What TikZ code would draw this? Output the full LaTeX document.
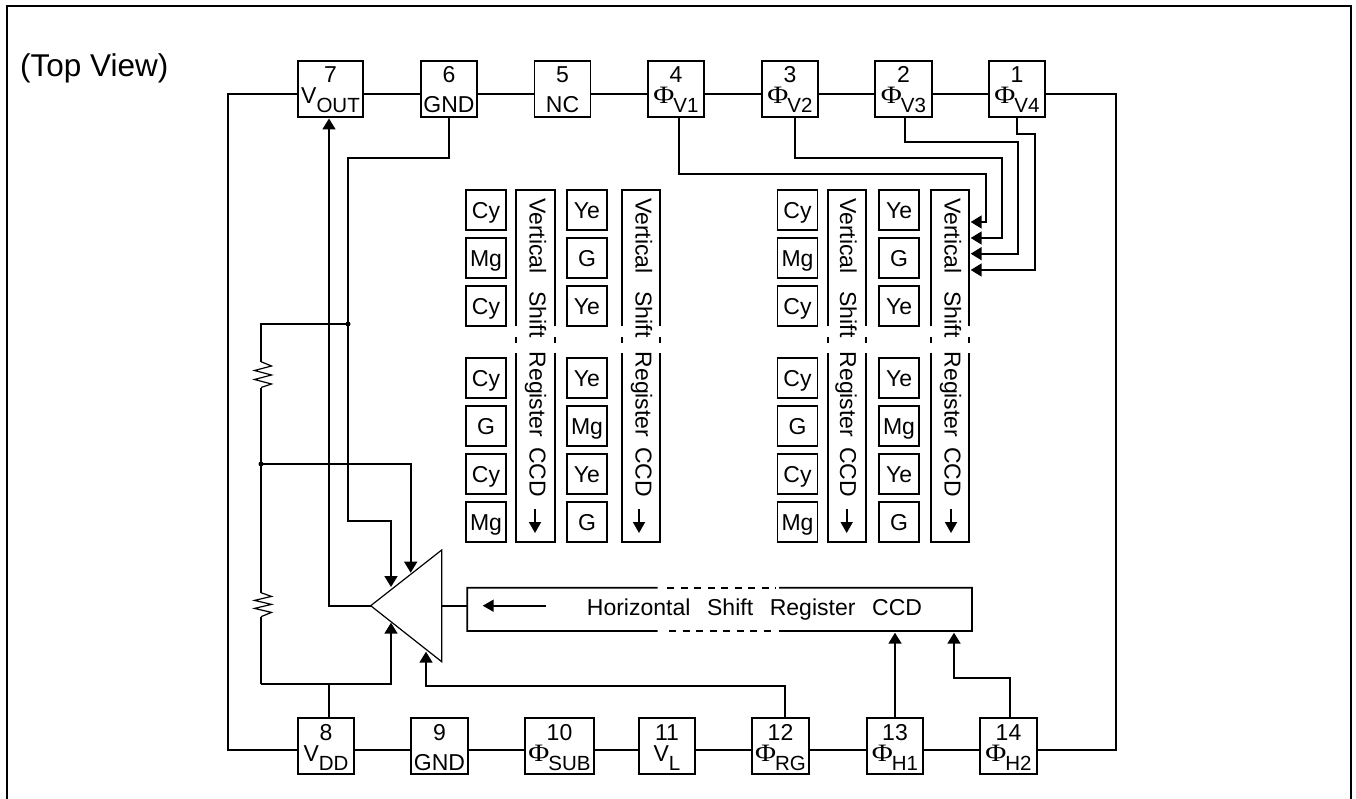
\documentclass[tikz,border=0pt]{standalone}
\usepackage{fontspec}
\setmainfont{Liberation Sans}
\newfontfamily\phifont{Liberation Serif}
\usetikzlibrary{arrows.meta}

\newcommand{\pinsub}[2]{#1\lower9pt\hbox{\fontsize{20.5}{20.5}\selectfont #2}}
\newcommand{\pinphi}[1]{\pinsub{\scalebox{1.15}[1]{\phifont\fontsize{25}{25}\selectfont Φ}\kern-1pt}{#1}}
\newcommand{\pinlow}[1]{\lower9pt\hbox{#1}}

\tikzset{
  pin/.style={draw,line width=1.8pt,minimum height=56pt,inner sep=0pt,outer sep=0pt,align=center,
    text height=30pt,text depth=0pt,font=\fontsize{23}{21}\selectfont},
  cell/.style={draw,line width=1.8pt,minimum width=40pt,minimum height=40pt,inner sep=0pt,outer sep=0pt,
    text height=16.5pt,text depth=0pt,font=\fontsize{23}{23}\selectfont},
  reglabel/.style={rotate=-90,anchor=base west,inner sep=0pt,font=\fontsize{23}{23}\selectfont},
  wire/.style={line width=1.8pt},
  sig/.style={line width=1.8pt,-{Triangle[length=11pt,width=13pt]}},
  inner/.style={line width=1.8pt,-{Triangle[length=11pt,width=12pt]}},
  zig/.style={line width=1.2pt}
}

\begin{document}
\begin{tikzpicture}[x=1pt,y=-1pt]
\useasboundingbox (0,0) rectangle (1356,799);
\draw[wire] (6.7,810) -- (6.7,5.7) -- (1351,5.7) -- (1351,810);
\node[anchor=base west,inner sep=0pt,font=\fontsize{31.5}{31.5}\selectfont] (view) at (20,77) {(Top View)};

% top row of pins
\node[pin,minimum width=65pt] (p7) at (330.5,89) {7\\\pinsub{V}{OUT}};
\node[pin,minimum width=56pt] (p6) at (449,89) {6\\\pinlow{GND}};
\node[pin,minimum width=56pt] (p5) at (562.5,89) {5\\\pinlow{NC}};
\node[pin,minimum width=56pt] (p4) at (676,89) {4\\\pinphi{V1}};
\node[pin,minimum width=56pt] (p3) at (790,89) {3\\\pinphi{V2}};
\node[pin,minimum width=57pt] (p2) at (903.5,89) {2\\\pinphi{V3}};
\node[pin,minimum width=56pt] (p1) at (1017,89) {1\\\pinphi{V4}};

% bottom row of pins
\node[pin,minimum width=56pt] (p8) at (326,746) {8\\\pinsub{V}{DD}};
\node[pin,minimum width=57pt] (p9) at (439.5,746) {9\\\pinlow{GND}};
\node[pin,minimum width=69pt] (p10) at (559.5,746) {10\\\pinphi{SUB}};
\node[pin,minimum width=56pt] (p11) at (667,746) {11\\\pinsub{V}{L}};
\node[pin,minimum width=57pt] (p12) at (780.5,746) {12\\\pinphi{RG}};
\node[pin,minimum width=56pt] (p13) at (895,746) {13\\\pinphi{H1}};
\node[pin,minimum width=57pt] (p14) at (1008.5,746) {14\\\pinphi{H2}};

% outer ring
\coordinate (tl) at (227.7,94);
\coordinate (tr) at (1115.7,94);
\coordinate (bl) at (227.7,749.7);
\coordinate (br) at (1115.7,749.7);
\draw[wire] (p7.west |- tl) -- (tl) -- (bl) -- (p8.west |- bl);
\draw[wire] (p1.east |- tr) -- (tr) -- (br) -- (p14.east |- br);
\draw[wire] (p7.east |- tl) -- (p6.west |- tl);
\draw[wire] (p6.east |- tl) -- (p5.west |- tl);
\draw[wire] (p5.east |- tl) -- (p4.west |- tl);
\draw[wire] (p4.east |- tl) -- (p3.west |- tl);
\draw[wire] (p3.east |- tl) -- (p2.west |- tl);
\draw[wire] (p2.east |- tl) -- (p1.west |- tl);
\draw[wire] (p8.east |- bl) -- (p9.west |- bl);
\draw[wire] (p9.east |- bl) -- (p10.west |- bl);
\draw[wire] (p10.east |- bl) -- (p11.west |- bl);
\draw[wire] (p11.east |- bl) -- (p12.west |- bl);
\draw[wire] (p12.east |- bl) -- (p13.west |- bl);
\draw[wire] (p13.east |- bl) -- (p14.west |- bl);

% left group of cells
\node[cell] (a1) at (486,210) {Cy};
\node[cell] (a2) at (486,258) {Mg};
\node[cell] (a3) at (486,306) {Cy};
\node[cell] (a4) at (486,378) {Cy};
\node[cell] (a5) at (486,426) {G};
\node[cell] (a6) at (486,474) {Cy};
\node[cell] (a7) at (486,522) {Mg};
\node[cell] (b1) at (587,210) {Ye};
\node[cell] (b2) at (587,258) {G};
\node[cell] (b3) at (587,306) {Ye};
\node[cell] (b4) at (587,378) {Ye};
\node[cell] (b5) at (587,426) {Mg};
\node[cell] (b6) at (587,474) {Ye};
\node[cell] (b7) at (587,522) {G};

% right group of cells
\node[cell] (c1) at (797.5,210) {Cy};
\node[cell] (c2) at (797.5,258) {Mg};
\node[cell] (c3) at (797.5,306) {Cy};
\node[cell] (c4) at (797.5,378) {Cy};
\node[cell] (c5) at (797.5,426) {G};
\node[cell] (c6) at (797.5,474) {Cy};
\node[cell] (c7) at (797.5,522) {Mg};
\node[cell] (d1) at (899,210) {Ye};
\node[cell] (d2) at (899,258) {G};
\node[cell] (d3) at (899,306) {Ye};
\node[cell] (d4) at (899,378) {Ye};
\node[cell] (d5) at (899,426) {Mg};
\node[cell] (d6) at (899,474) {Ye};
\node[cell] (d7) at (899,522) {G};

% vertical registers
\draw[wire] (516,326) -- (516,190) -- (555,190) -- (555,326) (516,337) -- (516,343) (555,337) -- (555,343) (516,353) -- (516,542) -- (555,542) -- (555,353);
\draw[wire] (622,326) -- (622,190) -- (660,190) -- (660,326) (622,337) -- (622,343) (660,337) -- (660,343) (622,353) -- (622,542) -- (660,542) -- (660,353);
\draw[wire] (828,326) -- (828,190) -- (866,190) -- (866,326) (828,337) -- (828,343) (866,337) -- (866,343) (828,353) -- (828,542) -- (866,542) -- (866,353);
\draw[wire] (931,326) -- (931,190) -- (969,190) -- (969,326) (931,337) -- (931,343) (969,337) -- (969,343) (931,353) -- (931,542) -- (969,542) -- (969,353);
\node[reglabel] (r1) at (529.5,198) {Vertical\hspace{18pt}Shift\hspace{14pt}Register\hspace{10pt}CCD};
\node[reglabel] (r2) at (635.5,198) {Vertical\hspace{18pt}Shift\hspace{14pt}Register\hspace{10pt}CCD};
\node[reglabel] (r3) at (840,198) {Vertical\hspace{18pt}Shift\hspace{14pt}Register\hspace{10pt}CCD};
\node[reglabel] (r4) at (944.5,198) {Vertical\hspace{18pt}Shift\hspace{14pt}Register\hspace{10pt}CCD};
\coordinate (r1a) at (535,509);
\coordinate (r1b) at (535,533);
\coordinate (r2a) at (639,509);
\coordinate (r2b) at (639,533);
\coordinate (r3a) at (846.7,509);
\coordinate (r3b) at (846.7,533);
\coordinate (r4a) at (951,509);
\coordinate (r4b) at (951,533);
\draw[inner] (r1a) -- (r1b);
\draw[inner] (r2a) -- (r2b);
\draw[inner] (r3a) -- (r3b);
\draw[inner] (r4a) -- (r4b);

% clock lines into the last register
\coordinate (v1) at (970.7,222);
\coordinate (v2) at (970.7,238);
\coordinate (v3) at (970.7,253.7);
\coordinate (v4) at (970.7,270);
\draw[sig] ([xshift=2.7pt]p4.south) |- (986,174) |- (v1);
\draw[sig] ([xshift=5pt]p3.south) |- (1002,157.7) |- (v2);
\draw[sig] ([xshift=1.5pt]p2.south) |- (1018,141.7) |- (v3);
\draw[sig] ([xshift=-0.3pt]p1.south) |- (1035,133.7) |- (v4);

% horizontal register
\node[minimum width=504.7pt,minimum height=43.3pt,inner sep=0pt,outer sep=0pt] (hreg) at (719.65,609.35) {};
\node[anchor=base west,inner sep=0pt,font=\fontsize{23}{23}\selectfont] (htext) at (586.7,615) {Horizontal\hspace{16.7pt}Shift\hspace{16.7pt}Register\hspace{16.7pt}CCD};
\draw[wire] (657.7,587.7) -- (hreg.north west) -- (hreg.south west) -- (657.7,631);
\draw[wire] (779,587.7) -- (hreg.north east) -- (hreg.south east) -- (779,631);
\draw[wire,dash pattern=on 7pt off 6.5pt] (667,587.7) -- (776,587.7);
\draw[wire,dash pattern=on 7pt off 6.5pt] (669,631) -- (772,631);

% amplifier
\coordinate (ampout) at (370.7,605.7);
\coordinate (ampin) at (441.7,605.7);
\draw[zig] (ampout) -- (441.7,550) -- (441.7,661.7) -- cycle;
\draw[wire] (ampin) -- (hreg.west |- ampin);
\coordinate (ha) at (546,605.7);
\coordinate (hb) at (482.7,605.7);
\draw[inner] (ha) -- (hb);
\coordinate (o1) at (329,118.5);
\draw[sig] (ampout) -| (o1);

% input side of the amplifier
\coordinate (j1) at (348,324);
\coordinate (j2) at (261,464);
\coordinate (i1) at (391,587);
\coordinate (i2) at (410.7,572.7);
\coordinate (i3) at (391,622.7);
\coordinate (i4) at (426,651.7);
\coordinate (rail) at (261,684);
\coordinate (vdd) at (329,684);
\draw[sig] (p6.south) |- (348,157.7) -- (348,520.7) -| (i1);
\draw[sig] (j2) -| (i2);
\draw[sig] (rail) -| (i3);
\draw[wire] (vdd) -- (vdd |- p8.north);
\draw[sig] ([xshift=4.5pt]p12.north) |- (426,686) -- (i4);
\fill (j1) circle (2.5pt);
\fill (j2) circle (2.5pt);

% resistors
\coordinate (s1) at (261,361.7);
\coordinate (s2) at (261,387.5);
\coordinate (s3) at (261,592.7);
\coordinate (s4) at (261,616.7);
\draw[wire] (j1) -| (s1);
\draw[zig] (s1) -- ++(10.5,4.3) -- ++(-17,4.5) -- ++(17,4.5) -- ++(-17,4.5) -- ++(17,4.5) -- (s2);
\draw[wire] (s2) -- (j2) -- (s3);
\draw[zig] (s3) -- ++(10.5,3.7) -- ++(-17,4) -- ++(17,4) -- ++(-17,4) -- ++(17,4) -- (s4);
\draw[wire] (s4) -- (rail);

% clock lines into the horizontal register
\coordinate (h1) at (895,632.7);
\coordinate (h2) at (954,632.7);
\draw[sig] (p13.north) -- (h1);
\draw[sig] ([xshift=1.5pt]p14.north) |- (954,677.7) -- (h2);
\end{tikzpicture}
\end{document}
